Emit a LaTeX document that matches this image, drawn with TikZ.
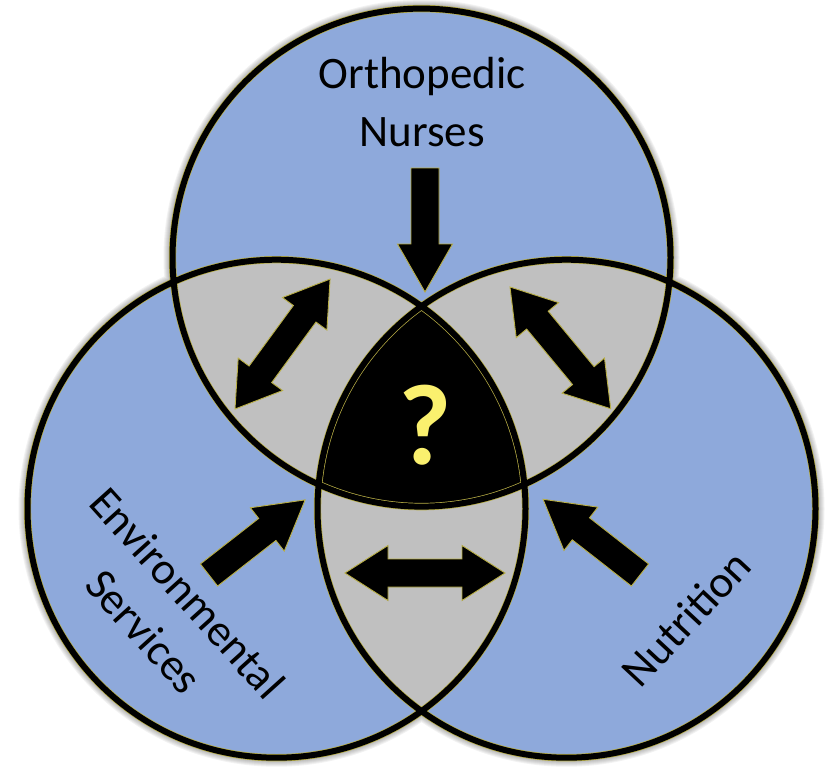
\documentclass[tikz,border=0pt]{standalone}
\usepackage{fontspec}
\setmainfont{Carlito}
\usetikzlibrary{calc}

\definecolor{venblue}{RGB}{142,169,219}
\definecolor{vengray}{RGB}{192,192,192}
\definecolor{venedge}{RGB}{185,175,70}
\definecolor{quest}{RGB}{250,240,110}

\tikzset{
  ring/.style={draw=black, line width=6pt},
  ringedge/.style={draw=venedge, line width=7.4pt},
  blk/.style={fill=black, draw=venedge, line width=0.9pt, line join=miter},
  lbl/.style={font=\fontsize{45}{58}\selectfont, inner sep=0pt, text=black},
  pics/singlearrow/.style={code={
    \path[blk] (0,-14) -- ({#1-48},-14) -- ({#1-48},-27.5) -- (#1,0)
      -- ({#1-48},27.5) -- ({#1-48},14) -- (0,14) -- cycle;}},
  pics/doublearrow/.style={code={
    \path[blk] (0,0) -- (43,-27.5) -- (43,-14) -- ({#1-43},-14) -- ({#1-43},-27.5)
      -- (#1,0) -- ({#1-43},27.5) -- ({#1-43},14) -- (43,14) -- (43,27.5) -- cycle;}},
}

\begin{document}
\begin{tikzpicture}[x=1pt, y=-1pt]
  \useasboundingbox (0,0) rectangle (833,771);

  % circle centres
  \coordinate (ctop)   at (421.5,257.6);
  \coordinate (cleft)  at (276.5,508.7);
  \coordinate (cright) at (566.5,508.7);
  \def\rad{249pt}

  % soft drop shadow under the union of the circles
  \begin{scope}[shift={(6,6)}]
    \foreach \k in {0,...,9}{
      \fill[black, opacity=0.05]
        (ctop) circle[radius=\rad+\k pt]
        (cleft) circle[radius=\rad+\k pt]
        (cright) circle[radius=\rad+\k pt];
    }
  \end{scope}

  % blue discs
  \fill[venblue] (ctop) circle[radius=\rad];
  \fill[venblue] (cleft) circle[radius=\rad];
  \fill[venblue] (cright) circle[radius=\rad];

  % pairwise overlaps
  \begin{scope}
    \clip (ctop) circle[radius=\rad];
    \fill[vengray] (cleft) circle[radius=\rad];
    \fill[vengray] (cright) circle[radius=\rad];
  \end{scope}
  \begin{scope}
    \clip (cleft) circle[radius=\rad];
    \fill[vengray] (cright) circle[radius=\rad];
  \end{scope}

  % common overlap
  \begin{scope}
    \clip (ctop) circle[radius=\rad];
    \clip (cleft) circle[radius=\rad];
    \fill[black] (cright) circle[radius=\rad];
  \end{scope}

  % outlines
  \path[ringedge] (ctop) circle[radius=\rad] (cleft) circle[radius=\rad] (cright) circle[radius=\rad];
  \path[ring] (ctop) circle[radius=\rad] (cleft) circle[radius=\rad] (cright) circle[radius=\rad];

  % arrow anchors
  \coordinate (adown) at (425,168);
  \coordinate (aenv)  at (209,575);
  \coordinate (anut)  at (640,575);
  \coordinate (aul)   at (235,409);
  \coordinate (aur)   at (510,287);
  \coordinate (abot)  at (345,573);

  \pic[rotate=-90] at (adown) {singlearrow=124};
  \pic[rotate=38]  at (aenv)  {singlearrow=122};
  \pic[rotate=142] at (anut)  {singlearrow=123};
  \pic[rotate=53.8]  at (aul)  {doublearrow=161};
  \pic[rotate=-50.4] at (aur)  {doublearrow=158};
  \pic at (abot) {doublearrow=160};

  % labels
  \node[lbl, align=center] (ortho) at (422,102) {Orthopedic\\Nurses};
  \node[lbl, align=center, rotate=-48] (envir) at (166,612) {Environmental\\Services};
  \node[lbl, rotate=47] (nutri) at (686,618) {Nutrition};
  \node[font=\fontsize{115}{115}\selectfont\bfseries, text=quest, inner sep=0pt] (qmark) at (425,425) {?};
\end{tikzpicture}
\end{document}
